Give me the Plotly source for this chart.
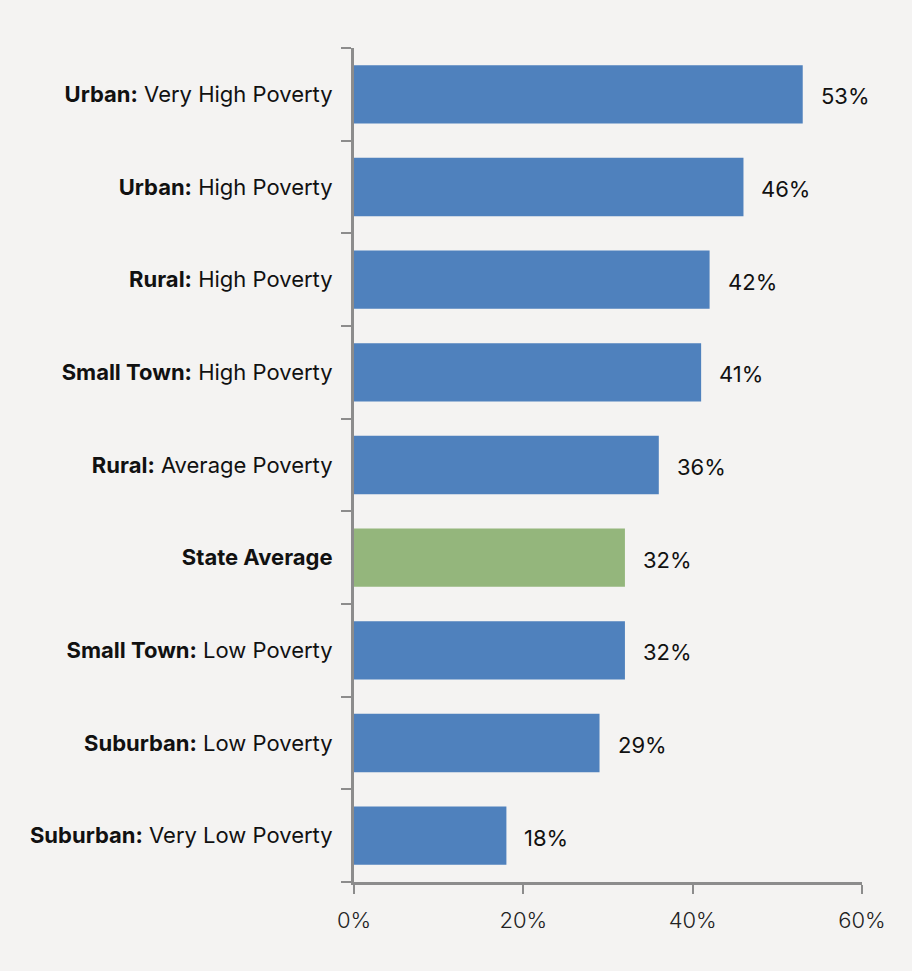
import plotly.graph_objects as go

# Share of students by locale and poverty level
groups = ["Urban:", "Urban:", "Rural:", "Small Town:", "Rural:", "State Average",
          "Small Town:", "Suburban:", "Suburban:"]
subgroups = ["Very High Poverty", "High Poverty", "High Poverty", "High Poverty",
             "Average Poverty", "", "Low Poverty", "Low Poverty", "Very Low Poverty"]
values = [53, 46, 42, 41, 36, 32, 32, 29, 18]
x_ticks = [0, 20, 40, 60]
x_tick_labels = ["0%", "20%", "40%", "60%"]

BLUE = "#4f81bd"
GREEN = "#94b67c"
BG = "#f4f3f2"
AXIS = "#8c8c8c"
FONT = "Inter, Lato, sans-serif"

labels = []
for g, s in zip(groups, subgroups):
    labels.append(f"<b>{g}</b> {s}".strip() if s else f"<b>{g}</b>")

colors = [GREEN if s == "" else BLUE for s in subgroups]

fig = go.Figure(
    go.Bar(
        y=labels,
        x=values,
        orientation="h",
        marker=dict(color=colors, line=dict(width=0)),
        width=0.63,
        hoverinfo="skip",
    )
)

for lab, v in zip(labels, values):
    fig.add_annotation(
        x=v, y=lab, text=f"{v}%", showarrow=False,
        xanchor="left", yanchor="middle", xshift=16, yshift=-2,
        font=dict(family=FONT, size=22, color="#111111"),
    )

fig.update_layout(
    width=912, height=971,
    margin=dict(l=354, r=50, t=48, b=89),
    paper_bgcolor=BG, plot_bgcolor=BG,
    showlegend=False,
    bargap=0.37,
    font=dict(family=FONT, size=22, color="#111111"),
)

fig.update_xaxes(
    range=[0, 60], tickvals=x_ticks, ticktext=x_tick_labels,
    showgrid=False, zeroline=False,
    showline=True, linecolor=AXIS, linewidth=3,
    ticks="outside", ticklen=9, tickwidth=2, tickcolor=AXIS,
    ticklabelstandoff=8,
    tickfont=dict(family=FONT, size=22, color="#222222", weight=300),
)

fig.update_yaxes(
    categoryorder="array", categoryarray=labels[::-1],
    autorange=False, range=[-0.5, len(labels) - 0.5],
    showgrid=False, zeroline=False,
    showline=True, linecolor=AXIS, linewidth=3,
    ticks="outside", ticklen=10, tickwidth=2, tickcolor=AXIS,
    tickson="boundaries", ticklabelstandoff=14,
    tickfont=dict(family=FONT, size=22, color="#111111"),
)

fig.write_html("out.html")
